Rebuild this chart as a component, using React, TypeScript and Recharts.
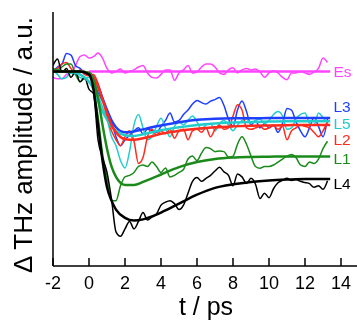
import { LineChart, Line, XAxis, YAxis, ReferenceDot } from "recharts";

// time axis of the measured traces (ps)
const times = [
  -2, -1.75, -1.5, -1.25, -1, -0.75, -0.5, -0.25,
  0, 0.25, 0.5, 0.75, 1, 1.25, 1.5, 1.75,
  2, 2.25, 2.5, 2.75, 3, 3.25, 3.5, 3.75,
  4, 4.25, 4.5, 4.75, 5, 5.25, 5.5, 5.75,
  6, 6.25, 6.5, 6.75, 7, 7.25, 7.5, 7.75,
  8, 8.25, 8.5, 8.75, 9, 9.25, 9.5, 9.75,
  10, 10.25, 10.5, 10.75, 11, 11.25, 11.5, 11.75,
  12, 12.25, 12.5, 12.75, 13, 13.25,
];

const esRaw = [
  -0.2, -0.25, -0.25, -0.1, -0.05, 0.2, 0.5, 0.55,
  0.45, 0.5, 0.62, 0.45, 0.1, -0.05, 0.0, 0.08,
  -0.05, 0.0, 0.05, 0.15, 0.2, -0.05, -0.2, -0.22,
  -0.1, 0.05, 0.05, -0.3, -0.05, 0.05, 0.2, -0.05,
  -0.02, 0.15, 0.25, 0.25, 0.15, -0.05, -0.1, 0.05,
  0.12, -0.05, 0.05, 0.1, 0.05, 0.08, -0.02, -0.2,
  -0.05, 0.02, -0.05, -0.2, -0.28, -0.05, -0.05, 0.0,
  -0.05, -0.1, -0.02, 0.1, 0.45, 0.3,
];

const l3Raw = [
  0.0, 0.15, 0.25, 0.6, 0.55, 0.2, 0.1, -0.05,
  -0.1, -0.35, -0.7, -1.0, -1.3, -1.7, -2.2, -2.5,
  -2.3, -2.15, -2.0, -1.9, -2.1, -1.95, -2.0, -2.05,
  -1.85, -1.65, -1.4, -1.7, -1.65, -1.45, -1.3, -1.1,
  -0.98, -1.05, -1.1, -1.0, -0.95, -0.88, -1.15, -1.6,
  -1.85, -1.3, -1.0, -1.35, -1.8, -1.65, -1.9, -1.75,
  -1.9, -1.8, -2.05, -1.75, -1.25, -1.3, -1.7, -2.0,
  -2.2, -1.9, -1.55, -1.85, -2.2, -1.6,
];

const l5Raw = [
  0.05, -0.1, -0.25, -0.2, -0.05, -0.1, -0.2, -0.25,
  -0.2, -0.45, -0.8, -1.2, -1.6, -2.2, -2.5, -3.0,
  -3.25, -2.7, -1.8, -1.45, -1.9, -2.3, -2.2, -1.85,
  -1.58, -1.9, -2.2, -1.85, -1.7, -1.8, -1.65, -1.5,
  -1.7, -1.95, -1.8, -1.75, -2.0, -1.75, -1.65, -1.8,
  -2.0, -1.8, -1.65, -1.6, -1.75, -1.65, -1.6, -1.75,
  -1.65, -1.45, -1.35, -1.5, -1.95, -1.9, -1.6, -1.45,
  -1.4, -1.75, -1.8, -1.4, -1.55, -1.75,
];

const l2Raw = [
  0.0, 0.1, 0.25, 0.3, 0.1, -0.05, 0.05, -0.1,
  -0.15, -0.1, -0.4, -0.9, -1.5, -2.0, -2.3, -2.5,
  -2.2, -2.0, -2.35, -3.1, -2.9, -2.2, -1.95, -2.15,
  -2.0, -2.1, -1.95, -2.25, -2.0, -1.95, -2.3, -2.0,
  -1.95, -2.05, -1.9, -2.2, -1.95, -1.8, -1.95, -1.9,
  -1.5, -1.12, -1.3, -1.9, -1.95, -1.9, -1.85, -1.95,
  -1.9, -1.82, -1.95, -1.85, -2.3, -2.0, -1.9, -1.8,
  -1.85, -1.9, -2.05, -2.2, -2.0, -1.7,
];

const l1Raw = [
  0.1, 0.05, 0.15, 0.25, 0.25, -0.1, -0.35, -0.25,
  -0.35, -0.6, -1.5, -2.75, -3.6, -4.35, -4.35, -3.85,
  -3.55, -3.5, -3.4, -3.2, -3.15, -3.2, -3.05, -3.2,
  -3.4, -3.25, -3.55, -3.5, -3.4, -3.3, -2.95, -2.85,
  -3.0, -2.75, -2.56, -2.6, -2.7, -2.68, -2.7, -2.88,
  -2.85, -2.45, -2.2, -2.45, -2.85, -3.2, -3.26, -3.2,
  -3.2, -3.15, -3.05, -2.95, -2.85, -2.8, -2.9, -3.15,
  -3.2, -3.05, -3.1, -2.95, -2.6, -2.35,
];

const l4Raw = [
  0.2, 0.42, -0.03, 0.1, -0.2, 0.0, -0.35, -0.2,
  -0.6, -0.75, -2.3, -2.9, -3.4, -4.3, -5.4, -5.55,
  -5.3, -5.05, -5.3, -5.05, -4.75, -5.0, -4.9, -4.8,
  -4.5, -4.4, -4.35, -4.45, -4.65, -4.5, -4.1, -3.7,
  -3.57, -3.7, -3.6, -3.5, -3.35, -3.23, -3.38, -3.5,
  -3.85, -3.45, -3.55, -3.77, -3.6, -3.8, -4.28, -4.1,
  -4.25, -3.95, -3.75, -3.67, -3.6, -3.67, -3.64, -3.7,
  -3.74, -3.78, -3.9, -3.85, -3.97, -3.68,
];

// fitted curves
const fitTimes = [-2, -1, -0.5, 0, 0.25, 0.5, 0.75, 1, 1.25, 1.5, 2, 2.5, 3, 3.5, 4, 5, 6, 7, 8, 9, 10, 11, 12, 13.4];
const esFit = [null, null, null, 0, 0, 0, 0, 0, 0, 0, 0, 0, 0, 0, 0, 0, 0, 0, 0, 0, 0, 0, 0, 0];
const l3Fit = [0, 0, 0, -0.05, -0.2, -0.5, -0.9, -1.3, -1.65, -1.88, -2.05, -2.02, -1.95, -1.88, -1.82, -1.71, -1.63, -1.59, -1.58, -1.58, -1.57, -1.57, -1.57, -1.57];
const l5Fit = [0, -0.02, -0.1, -0.35, -0.6, -1.0, -1.35, -1.62, -1.85, -2.0, -2.15, -2.17, -2.12, -2.05, -1.98, -1.88, -1.8, -1.75, -1.72, -1.7, -1.69, -1.68, -1.68, -1.68];
const l2Fit = [0, 0, 0, -0.05, -0.2, -0.5, -0.95, -1.4, -1.8, -2.05, -2.28, -2.3, -2.25, -2.18, -2.1, -2.0, -1.93, -1.88, -1.85, -1.83, -1.82, -1.81, -1.8, -1.8];
const l1Fit = [0, 0, 0, -0.05, -0.3, -0.9, -1.8, -2.6, -3.2, -3.55, -3.82, -3.82, -3.72, -3.6, -3.47, -3.22, -3.05, -2.95, -2.9, -2.88, -2.87, -2.86, -2.86, -2.86];
const l4Fit = [0, 0, 0, -0.1, -0.6, -1.8, -3.0, -3.9, -4.35, -4.65, -4.93, -5.02, -4.98, -4.88, -4.75, -4.45, -4.15, -3.92, -3.8, -3.72, -3.67, -3.64, -3.62, -3.62];

const seriesNames = ["Es", "L3", "L5", "L2", "L1", "L4"];
const seriesColors = ["#ff44ff", "#1f3fff", "#22cccc", "#ff2b1c", "#1a8a1a", "#000000"];
const labelLevels = [0, -1.19, -1.75, -2.29, -2.93, -3.77];

const xTicks = [-2, 0, 2, 4, 6, 8, 10, 12, 14];
const yTicks = [2, 1, 0, -1, -2, -3, -4, -5, -6];

const raw = [esRaw, l3Raw, l5Raw, l2Raw, l1Raw, l4Raw];
const fits = [esFit, l3Fit, l5Fit, l2Fit, l1Fit, l4Fit];

const rawRows = times.map((t, i) => {
  const row: Record<string, number> = { t };
  seriesNames.forEach((n, k) => (row[n] = raw[k][i]));
  return row;
});
const fitRows = fitTimes.map((t, i) => {
  const row: Record<string, number | null> = { t };
  seriesNames.forEach((n, k) => (row[n] = fits[k][i]));
  return row;
});

const font = "'Liberation Sans', Arial, Helvetica, sans-serif";
const axisLine = { stroke: "#000", strokeWidth: 1.5 };

export default function App() {
  return (
    <div style={{ position: "fixed", left: 8, top: 8, width: 349, height: 314, overflow: "hidden" }}>
      <LineChart
        width={360}
        height={314}
        margin={{ top: 4, right: 9, bottom: 0, left: 0 }}
        style={{ fontFamily: font }}
      >
        <XAxis
          type="number"
          dataKey="t"
          domain={[-2, 15]}
          allowDataOverflow
          ticks={xTicks}
          height={56}
          tickSize={-8}
          tickMargin={18}
          axisLine={axisLine}
          tickLine={axisLine}
          tick={{ fill: "#000", fontSize: 18, fontFamily: font }}
        />
        <XAxis
          xAxisId="top"
          orientation="top"
          type="number"
          domain={[-2, 15]}
          allowDataOverflow
          ticks={xTicks}
          height={0}
          tickSize={-8}
          tick={false}
          axisLine={axisLine}
          tickLine={axisLine}
        />
        <YAxis
          type="number"
          domain={[-6.55, 2]}
          allowDataOverflow
          ticks={yTicks}
          width={45}
          tickSize={-8}
          tick={false}
          axisLine={axisLine}
          tickLine={axisLine}
        />
        <YAxis
          yAxisId="r"
          orientation="right"
          type="number"
          domain={[-6.55, 2]}
          allowDataOverflow
          ticks={yTicks}
          width={0}
          tickSize={-8}
          tick={false}
          axisLine={axisLine}
          tickLine={axisLine}
        />
        {seriesNames.map((n, k) => (
          <Line
            key={"raw" + n}
            data={rawRows}
            dataKey={n}
            type="monotone"
            stroke={seriesColors[k]}
            strokeWidth={1.5}
            dot={false}
            activeDot={false}
            isAnimationActive={false}
          />
        ))}
        {seriesNames.map((n, k) => (
          <Line
            key={"fit" + n}
            data={fitRows}
            dataKey={n}
            type="monotone"
            stroke={seriesColors[k]}
            strokeWidth={2.5}
            dot={false}
            activeDot={false}
            isAnimationActive={false}
          />
        ))}
        {seriesNames.map((n, k) => (
          <ReferenceDot
            key={"lab" + n}
            x={13.25}
            y={labelLevels[k]}
            r={1}
            fill="none"
            stroke="none"
            label={{ value: n, position: "right", offset: 5, fill: seriesColors[k], fontSize: 15.5, fontFamily: font }}
          />
        ))}
      </LineChart>
      <svg
        width={349}
        height={314}
        style={{ position: "absolute", left: 0, top: 0, pointerEvents: "none", fontFamily: font }}
      >
        <text x={24} y={137} transform="rotate(-90 24 137)" textAnchor="middle" fontSize={26} fill="#000">
          Δ THz amplitude / a.u.
        </text>
        <text x={198} y={307} textAnchor="middle" fontSize={25} fill="#000">
          t / ps
        </text>
      </svg>
    </div>
  );
}
